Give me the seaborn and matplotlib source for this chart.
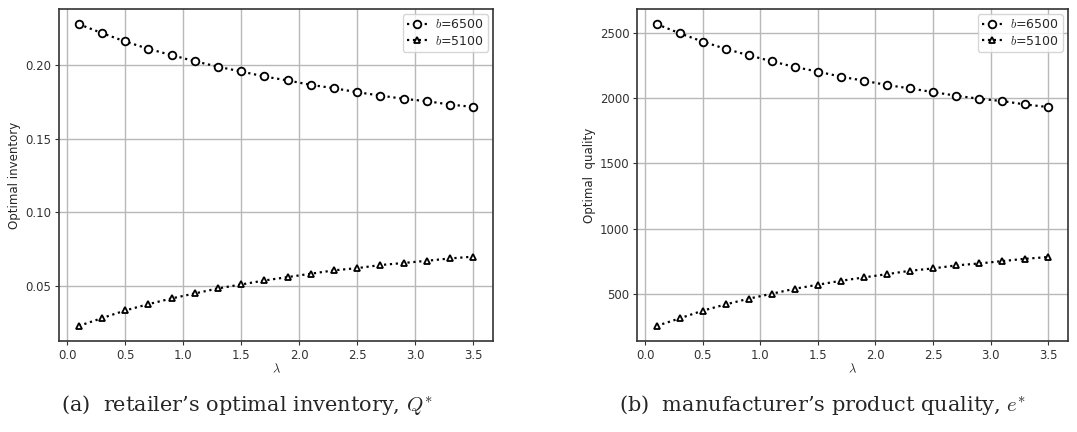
import numpy as np
import pandas as pd
import matplotlib
matplotlib.use("Agg")
import matplotlib.pyplot as plt
import seaborn as sns

lam = [0.1, 0.3, 0.5, 0.7, 0.9, 1.1, 1.3, 1.5, 1.7, 1.9, 2.1, 2.3, 2.5, 2.7, 2.9, 3.1, 3.3, 3.5]
inv_6500 = [0.2279, 0.2218, 0.2161, 0.2111, 0.2068, 0.2027, 0.1989, 0.1957, 0.1923,
            0.1896, 0.1866, 0.1843, 0.1816, 0.1793, 0.1771, 0.1755, 0.1732, 0.1716]
inv_5100 = [0.0227, 0.0280, 0.0332, 0.0375, 0.0414, 0.0448, 0.0482, 0.0509, 0.0536,
            0.0559, 0.0582, 0.0605, 0.0620, 0.0641, 0.0655, 0.0670, 0.0686, 0.0698]
qual_6500 = [2567, 2497, 2433, 2377, 2328, 2282, 2238, 2203, 2164,
             2133, 2100, 2074, 2046, 2018, 1995, 1977, 1951, 1931]
qual_5100 = [253, 311, 370, 418, 462, 500, 538, 569, 599,
             625, 650, 676, 694, 717, 732, 750, 768, 781]
series_labels = ["$b$=6500", "$b$=5100"]
xticks = [0.0, 0.5, 1.0, 1.5, 2.0, 2.5, 3.0, 3.5]
captions = ["(a)  retailer\u2019s optimal inventory, $Q^{*}$",
            "(b)  manufacturer\u2019s product quality, $e^{*}$"]
ylabels = ["Optimal inventory", "Optimal  quality"]

sns.set_style("ticks")
plt.rcParams["font.family"] = ["DejaVu Sans"]
plt.rcParams["mathtext.fontset"] = "cm"

fig = plt.figure(figsize=(10.77, 4.32), dpi=100)
ax1 = fig.add_axes([0.0548, 0.2106, 0.403, 0.7685])
ax2 = fig.add_axes([0.5915, 0.2106, 0.400, 0.7685])

panels = [(ax1, inv_6500, inv_5100), (ax2, qual_6500, qual_5100)]
for i, (ax, top, bot) in enumerate(panels):
    for vals, mk, lab in [(top, "o", series_labels[0]), (bot, "^", series_labels[1])]:
        df = pd.DataFrame({"lam": lam, "val": vals})
        sns.lineplot(data=df, x="lam", y="val", ax=ax, color="black", linestyle=":",
                     linewidth=1.6, marker=mk, markersize=5.5 if mk == "o" else 5,
                     markerfacecolor="white", markeredgecolor="black",
                     markeredgewidth=1.3, label=lab)
    ax.grid(True, color="#b8b8b8", linewidth=1.0)
    ax.set_axisbelow(True)
    for sp in ax.spines.values():
        sp.set_color("#333333")
        sp.set_linewidth(1.2)
    ax.set_xticks(xticks)
    ax.tick_params(labelsize=8.5, colors="#333333", length=3, width=0.8, pad=2.5)
    ax.set_xlabel("$\\lambda$", fontsize=9, labelpad=1)
    ax.set_ylabel(ylabels[i], fontsize=8.5, labelpad=3)
    leg = ax.legend(loc="upper right", fontsize=9, frameon=True, handlelength=1.6,
                    handletextpad=0.6, borderpad=0.35, labelspacing=0.25,
                    borderaxespad=0.4)
    leg.get_frame().set_edgecolor("#cccccc")

ax1.set_yticks([0.05, 0.10, 0.15, 0.20])
ax1.set_yticklabels(["0.05", "0.10", "0.15", "0.20"])
ax2.set_yticks([500, 1000, 1500, 2000, 2500])

fig.text(0.229, 0.062, captions[0], ha="center", va="center", fontsize=15,
         family="DejaVu Serif")
fig.text(0.764, 0.062, captions[1], ha="center", va="center", fontsize=15,
         family="DejaVu Serif")

fig.savefig("out.png", dpi=100)
